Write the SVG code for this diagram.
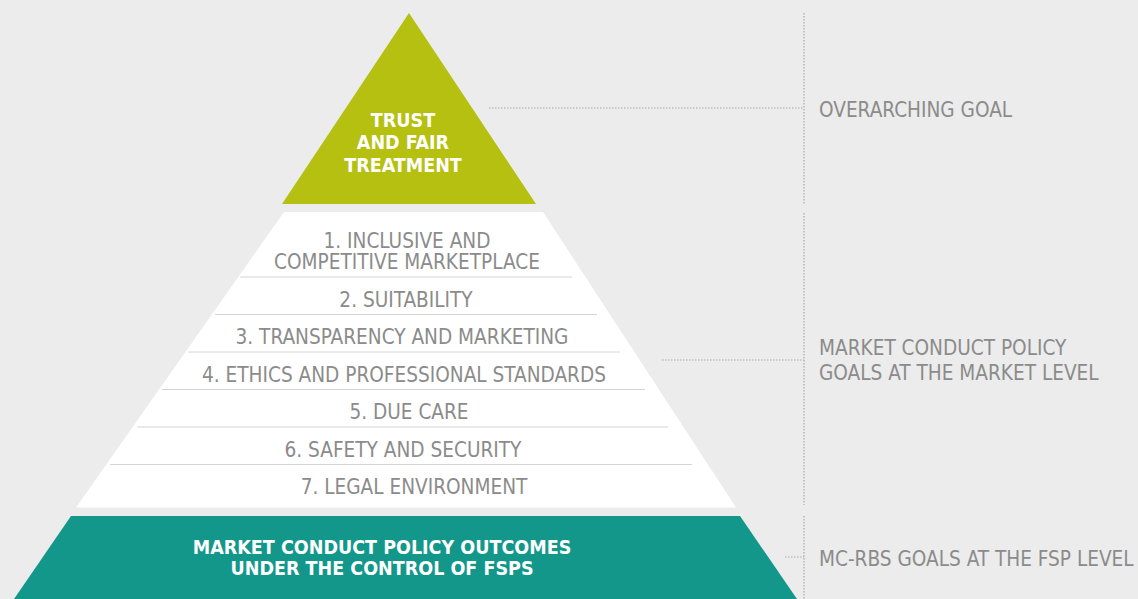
<svg xmlns="http://www.w3.org/2000/svg" width="1138" height="599" viewBox="0 0 1138 599">
  <style>
    .bg { fill: #ececec; }
    .green { fill: #b5c011; }
    .white { fill: #ffffff; }
    .teal { fill: #13978a; }
    .sep { stroke: #d4d4d4; stroke-width: 1; fill: none; }
    .dot { stroke: #aaaaaa; stroke-width: 1.2; stroke-dasharray: 1.5 1.5; fill: none; }
    .item { font-family: "DejaVu Sans Condensed", "DejaVu Sans", sans-serif; font-stretch: condensed; font-size: 20.6px; fill: #8b8b8b; text-anchor: middle; }
    .label { font-family: "DejaVu Sans Condensed", "DejaVu Sans", sans-serif; font-stretch: condensed; font-size: 20.6px; fill: #8b8b8b; }
    .bold { font-family: "DejaVu Sans Condensed", "DejaVu Sans", sans-serif; font-stretch: condensed; font-weight: bold; font-size: 19.5px; fill: #ffffff; text-anchor: middle; }
  </style>
  <rect class="bg" x="0" y="0" width="1138" height="599"/>

  <g id="connectors">
    <line class="dot" x1="804" y1="13" x2="804" y2="204"/>
    <line class="dot" x1="804" y1="213" x2="804" y2="505"/>
    <line class="dot" x1="804" y1="516" x2="804" y2="599"/>
    <line class="dot" x1="489" y1="108" x2="804" y2="108"/>
    <line class="dot" x1="662" y1="360" x2="804" y2="360"/>
    <line class="dot" x1="785" y1="557" x2="804" y2="557"/>
  </g>

  <g id="node-trust">
    <polygon class="green" points="409,13 282,204 536,204"/>
    <text class="bold" x="403" y="127">TRUST</text>
    <text class="bold" x="403" y="149">AND FAIR</text>
    <text class="bold" x="403" y="171.5">TREATMENT</text>
  </g>

  <g id="node-market-goals">
    <polygon class="white" points="284,212 543,212 736,507.5 76,507.5"/>
    <line class="sep" x1="240" y1="277" x2="572" y2="277"/>
    <line class="sep" x1="215" y1="314.5" x2="597" y2="314.5"/>
    <line class="sep" x1="188" y1="352" x2="620" y2="352"/>
    <line class="sep" x1="162" y1="389.5" x2="645" y2="389.5"/>
    <line class="sep" x1="137" y1="427" x2="668" y2="427"/>
    <line class="sep" x1="110" y1="464.5" x2="692" y2="464.5"/>
    <text class="item" x="407" y="247.5">1. INCLUSIVE AND</text>
    <text class="item" x="407" y="269">COMPETITIVE MARKETPLACE</text>
    <text class="item" x="406" y="306.5">2. SUITABILITY</text>
    <text class="item" x="402" y="344">3. TRANSPARENCY AND MARKETING</text>
    <text class="item" x="404" y="381.5">4. ETHICS AND PROFESSIONAL STANDARDS</text>
    <text class="item" x="409" y="419">5. DUE CARE</text>
    <text class="item" x="403" y="456.5">6. SAFETY AND SECURITY</text>
    <text class="item" x="414" y="494">7. LEGAL ENVIRONMENT</text>
  </g>

  <g id="node-fsp-outcomes">
    <polygon class="teal" points="71,516 740,516 797,599 14,599"/>
    <text class="bold" x="382" y="554">MARKET CONDUCT POLICY OUTCOMES</text>
    <text class="bold" x="382" y="575">UNDER THE CONTROL OF FSPS</text>
  </g>

  <g id="label-overarching">
    <text class="label" x="819" y="116.5">OVERARCHING GOAL</text>
  </g>
  <g id="label-market-level">
    <text class="label" x="819" y="355">MARKET CONDUCT POLICY</text>
    <text class="label" x="819" y="380">GOALS AT THE MARKET LEVEL</text>
  </g>
  <g id="label-fsp-level">
    <text class="label" x="819" y="565.5">MC-RBS GOALS AT THE FSP LEVEL</text>
  </g>
</svg>
